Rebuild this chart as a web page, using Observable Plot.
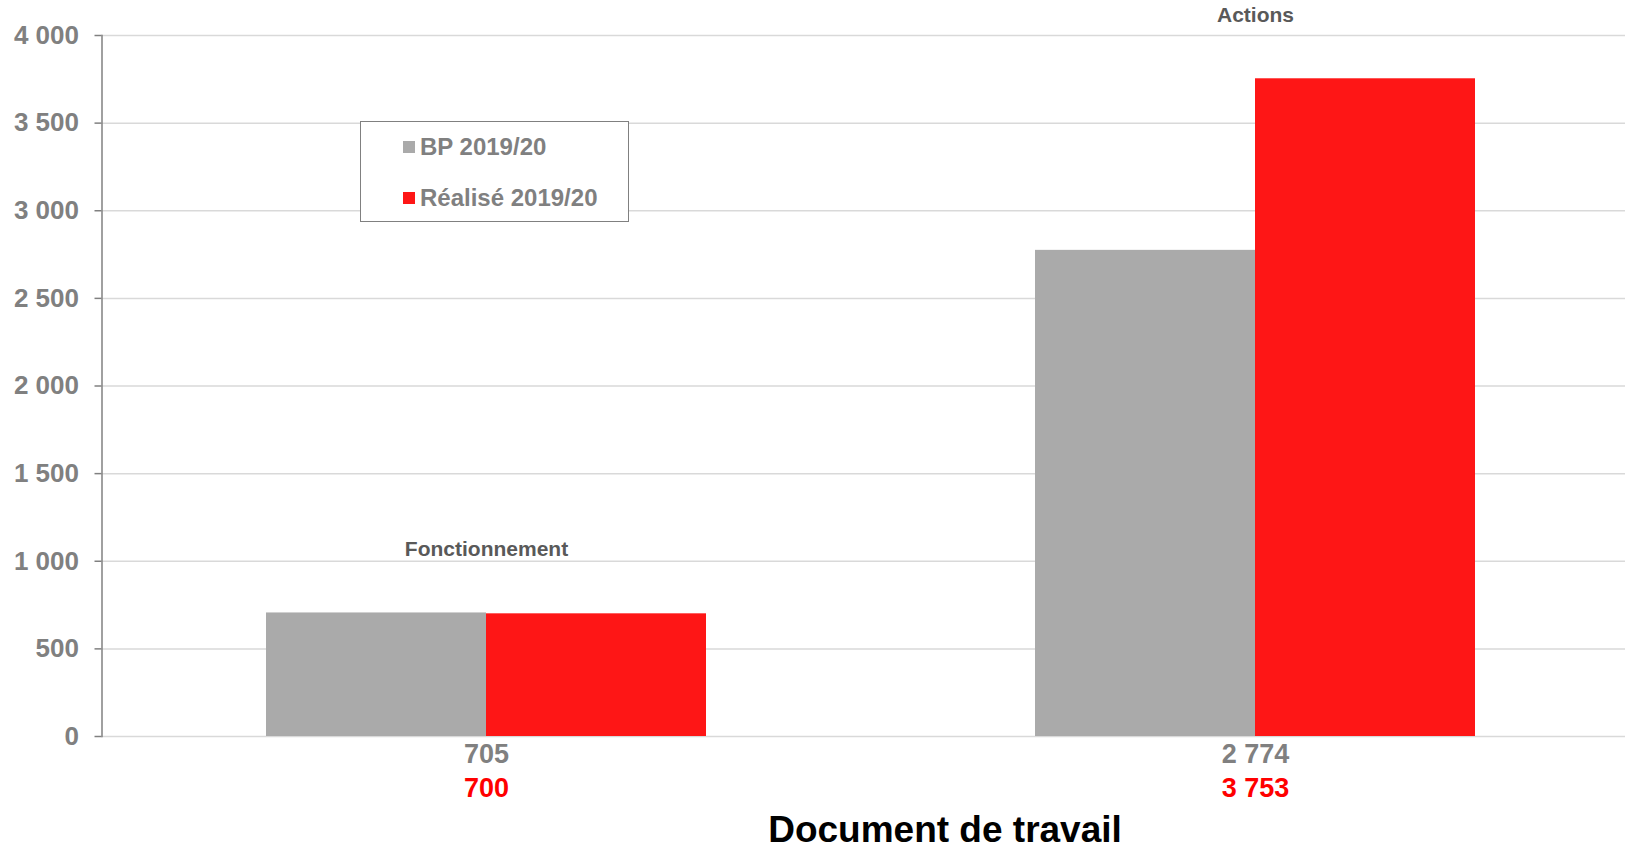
<!DOCTYPE html>
<html><head><meta charset="utf-8">
<script src="https://cdn.jsdelivr.net/npm/d3@7"></script>
<script src="https://cdn.jsdelivr.net/npm/@observablehq/plot@0.6"></script>
<style>
html,body{margin:0;padding:0;background:#fff;overflow:hidden}
#wrap{position:relative;width:1625px;height:847px;font-family:"Liberation Sans",Arial,sans-serif}
#chart svg{display:block}
.legend{position:absolute;left:360px;top:121px;width:269px;height:101px;border:1.5px solid #808080;box-sizing:border-box;background:#fff}
.item{position:absolute;left:42px;height:28px;line-height:28px;font-size:24px;font-weight:bold;color:#808080;white-space:nowrap}
.item span.sw{display:inline-block;width:12px;height:12px;margin-right:5px;vertical-align:middle;position:relative;top:-2px}
.title{position:absolute;left:0;width:1890px;text-align:center;top:808px;font-size:37px;font-weight:bold;color:#000;line-height:44px}
</style>
</head><body>
<div id="wrap">
  <div id="chart"></div>
  <div class="legend" id="legend"></div>
  <div class="title">Document de travail</div>
</div>
<script>
const categories = ["Fonctionnement", "Actions"];
const bpValues = [705, 2774];
const realValues = [700, 3753];
const seriesNames = ["BP 2019/20", "Réalisé 2019/20"];
const seriesColors = ["#aaaaaa", "#fe1616"];
const labelColors = ["#808080", "#ff0000"];
const yTicks = [0, 500, 1000, 1500, 2000, 2500, 3000, 3500, 4000];

const data = categories.map((c, i) => ({cat: c, bp: bpValues[i], real: realValues[i], top: Math.max(bpValues[i], realValues[i])}));
const fmt = d => d3.format(",")(d).replace(/,/g, " ");
const font = '"Liberation Sans", Arial, sans-serif';
const half = 220;

const chart = Plot.plot({
  width: 1625, height: 847,
  marginTop: 35, marginBottom: 111, marginLeft: 101.5, marginRight: 0,
  style: {fontFamily: font, background: "transparent", overflow: "visible"},
  x: {domain: categories, range: [101.5, 1639.5], paddingInner: 0.428, paddingOuter: 0.214, axis: null},
  y: {domain: [0, 4000], axis: null},
  marks: [
    Plot.ruleY(yTicks, {stroke: "#d9d9d9", strokeWidth: 1.5}),
    Plot.barY(data, {x: "cat", y: "bp", fill: seriesColors[0], insetRight: half}),
    Plot.barY(data, {x: "cat", y: "real", fill: seriesColors[1], insetLeft: half}),
    Plot.frame({anchor: "left", stroke: "#808080", strokeWidth: 1.5}),
    Plot.axisY({ticks: yTicks, tickFormat: fmt, tickSize: 7, tickPadding: 16, stroke: "#808080", strokeWidth: 1.5,
      fill: "#808080", fontSize: 26, fontWeight: "bold", label: null}),
    Plot.text(data, {x: "cat", y: "top", text: "cat", dy: -64, fill: "#595959", fontSize: 21, fontWeight: "bold"}),
    Plot.text(data, {x: "cat", y: 0, text: d => fmt(d.bp), dy: 18, fill: labelColors[0], fontSize: 27, fontWeight: "bold"}),
    Plot.text(data, {x: "cat", y: 0, text: d => fmt(d.real), dy: 52, fill: labelColors[1], fontSize: 27, fontWeight: "bold"})
  ]
});
document.getElementById("chart").appendChild(chart);

const leg = document.getElementById("legend");
seriesNames.forEach((n, i) => {
  const d = document.createElement("div");
  d.className = "item";
  d.style.top = (11 + i * 51) + "px";
  d.innerHTML = `<span class="sw" style="background:${seriesColors[i]}"></span>${n}`;
  leg.appendChild(d);
});
</script>
</body></html>
